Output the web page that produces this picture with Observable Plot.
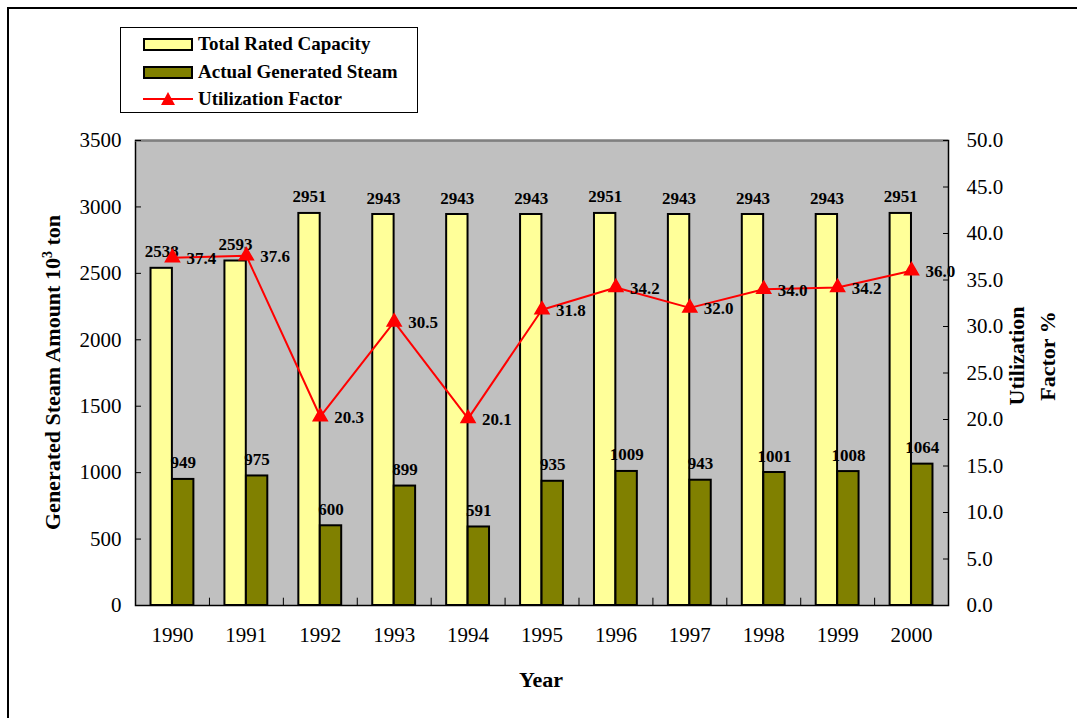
<!DOCTYPE html>
<html>
<head>
<meta charset="utf-8">
<script src="https://cdn.jsdelivr.net/npm/d3@7"></script>
<script src="https://cdn.jsdelivr.net/npm/@observablehq/plot@0.6"></script>
<style>
  html, body { margin: 0; padding: 0; background: #fff; overflow: hidden; }
  #wrap { position: relative; width: 1077px; height: 718px; font-family: "Liberation Serif", "Times New Roman", serif; }
  #border { position: absolute; left: 7px; top: 7px; width: 1100px; height: 740px; border: 2.5px solid #000; box-sizing: border-box; }
  #chart { position: absolute; left: 0; top: 0; }
  #legend { position: absolute; left: 120px; top: 27px; width: 298px; height: 86px; border: 1px solid #000; box-sizing: border-box; background: #fff; }
  .item { position: absolute; left: 22px; height: 22px; display: flex; align-items: center; font-weight: bold; font-size: 19px; white-space: nowrap; }
  .sw { width: 50px; height: 13px; border: 2px solid #000; box-sizing: border-box; margin-right: 5px; }
  .ytitle { position: absolute; font-weight: bold; font-size: 22px; white-space: nowrap; transform-origin: center center; line-height: 1; }
</style>
</head>
<body>
<div id="wrap">
  <div id="border"></div>
  <div id="chart"></div>
  <div id="legend"></div>
  <div class="ytitle" id="ltitle"></div>
  <div class="ytitle" id="rtitle1"></div>
  <div class="ytitle" id="rtitle2"></div>
  <div class="ytitle" id="xtitle"></div>
</div>
<script>
const years = ["1990","1991","1992","1993","1994","1995","1996","1997","1998","1999","2000"];
const totalRated = [2538, 2593, 2951, 2943, 2943, 2943, 2951, 2943, 2943, 2943, 2951];
const actualSteam = [949, 975, 600, 899, 591, 935, 1009, 943, 1001, 1008, 1064];
const utilization = [37.4, 37.6, 20.3, 30.5, 20.1, 31.8, 34.2, 32.0, 34.0, 34.2, 36.0];
const leftTicks = [0, 500, 1000, 1500, 2000, 2500, 3000, 3500];
const rightTicks = [0, 5, 10, 15, 20, 25, 30, 35, 40, 45, 50];
const seriesNames = ["Total Rated Capacity", "Actual Generated Steam", "Utilization Factor"];
const leftTitle = "Generated Steam Amount 10<sup style='font-size:14px;vertical-align:8px'>3</sup> ton";
const rightTitle = ["Utilization", "Factor %"];
const xTitle = "Year";

const yMax = 3500, rMax = 50, k = yMax / rMax;
const rows = years.map((y, i) => ({year: y, total: totalRated[i], actual: actualSteam[i], util: utilization[i], utilY: utilization[i] * k}));

const yellow = "#FFFF99", olive = "#808000", red = "#FF0000";
const half = 21.5;

const chart = Plot.plot({
  width: 1077,
  height: 718,
  marginLeft: 135,
  marginRight: 129,
  marginTop: 140,
  marginBottom: 113,
  style: {fontFamily: "'Liberation Serif', 'Times New Roman', serif", fontSize: "21px", background: "transparent", color: "#000"},
  x: {domain: years, type: "band", paddingInner: 0.42, paddingOuter: 0.21, round: false, label: null},
  y: {domain: [0, yMax], label: null},
  marks: [
    Plot.frame({fill: "#C0C0C0", stroke: null}),
    Plot.barY(rows, {x: "year", y: "total", fill: yellow, stroke: "#000", strokeWidth: 2, insetRight: half}),
    Plot.barY(rows, {x: "year", y: "actual", fill: olive, stroke: "#000", strokeWidth: 2, insetLeft: half}),
    Plot.text(rows, {x: "year", y: "total", text: d => String(d.total), dx: -half / 2, dy: -11, lineAnchor: "bottom", fontWeight: "bold", fontSize: 17}),
    Plot.text(rows, {x: "year", y: "actual", text: d => String(d.actual), dx: half / 2, dy: -11, lineAnchor: "bottom", fontWeight: "bold", fontSize: 17}),
    Plot.line(rows, {x: "year", y: "utilY", stroke: red, strokeWidth: 2}),
    Plot.dot(rows, {x: "year", y: "utilY", symbol: "triangle", r: 5.2, fill: red, stroke: red}),
    Plot.text(rows, {x: "year", y: "utilY", text: d => d.util.toFixed(1), dx: 14, dy: 1, textAnchor: "start", fontWeight: "bold", fontSize: 17}),
    Plot.ruleX(years.slice(0, -1), {x: d => d, y1: 0, y2: 55, dx: 37, stroke: "#000", strokeWidth: 1}),
    Plot.frame({stroke: "#000", strokeWidth: 1.5}),
    Plot.ruleY([yMax], {stroke: "#808080", strokeWidth: 2}),
    Plot.axisY(leftTicks, {anchor: "left", tickSize: -6, tickPadding: 20, tickFormat: d => String(d), label: null}),
    Plot.axisY(rightTicks.map(v => v * k), {anchor: "right", tickSize: -6, tickPadding: 24, tickFormat: d => (d / k).toFixed(1), label: null}),
    Plot.axisX({tickSize: 0, tickPadding: 22, label: null})
  ]
});
document.getElementById("chart").appendChild(chart);

// legend
const legend = document.getElementById("legend");
const legendTops = [5, 33, 60];
seriesNames.forEach((name, i) => {
  const it = document.createElement("div");
  it.className = "item";
  it.style.top = legendTops[i] + "px";
  let sw;
  if (i < 2) {
    sw = `<div class="sw" style="background:${i === 0 ? yellow : olive}"></div>`;
  } else {
    sw = `<svg width="50" height="16" style="margin-right:5px"><line x1="0" x2="50" y1="8" y2="8" stroke="${red}" stroke-width="2"/><path d="M25,1 L32,14 L18,14 Z" fill="${red}"/></svg>`;
  }
  it.innerHTML = sw + `<span>${name}</span>`;
  legend.appendChild(it);
});

function placeRotated(el, html, cx, cy, angle) {
  el.innerHTML = html;
  const w = el.offsetWidth, h = el.offsetHeight;
  el.style.left = (cx - w / 2) + "px";
  el.style.top = (cy - h / 2) + "px";
  el.style.transform = `rotate(${angle}deg)`;
}
placeRotated(document.getElementById("ltitle"), leftTitle, 52, 372, -90);
placeRotated(document.getElementById("rtitle1"), rightTitle[0], 1016, 356, -90);
placeRotated(document.getElementById("rtitle2"), rightTitle[1], 1047, 356, -90);
placeRotated(document.getElementById("xtitle"), xTitle, 541, 680, 0);
</script>
</body>
</html>
